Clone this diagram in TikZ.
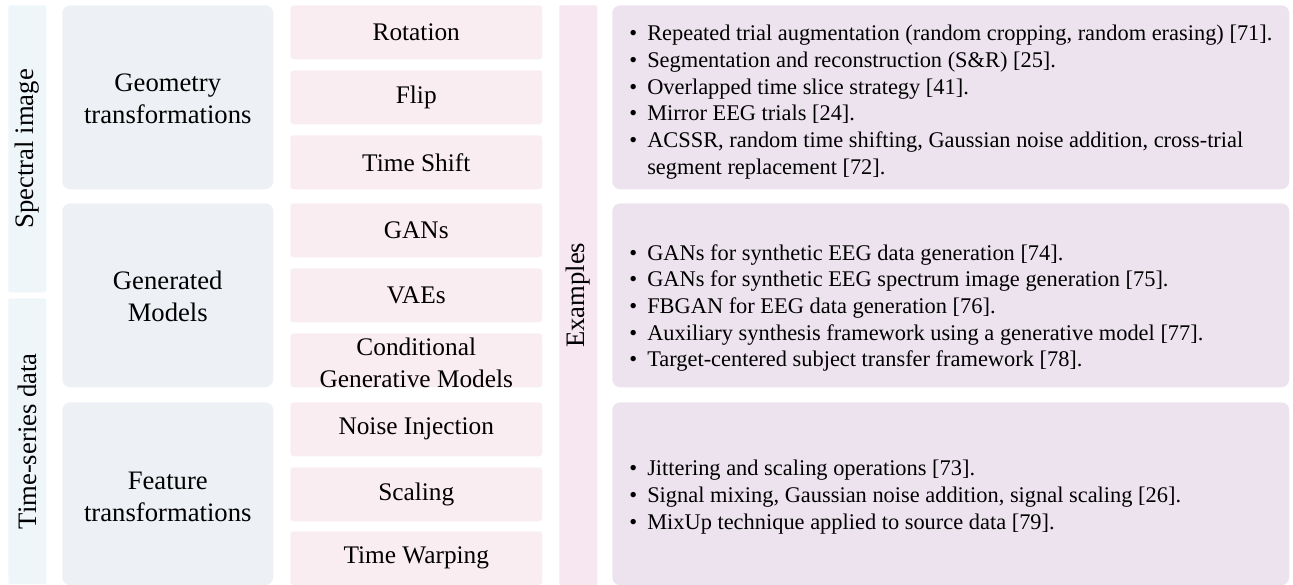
\documentclass[tikz,border=0pt]{standalone}
\usepackage{fontspec}
\setmainfont{Liberation Serif}
\definecolor{sideblue}{HTML}{EEF6FA}
\definecolor{catgray}{HTML}{EDF0F5}
\definecolor{methpink}{HTML}{FAEDF2}
\definecolor{exstrip}{HTML}{F6E7F1}
\definecolor{exlav}{HTML}{EDE3EF}
\newcommand{\bul}{\makebox[13.5pt][l]{\textbullet}}
\begin{document}
\begin{tikzpicture}[x=0.75pt,y=-0.75pt,
  side/.style={fill=sideblue, rounded corners=1.5pt, inner sep=0pt, anchor=north west, minimum width=28.5pt},
  vlabel/.style={rotate=90, font=\fontsize{20}{24}\selectfont, inner sep=0pt},
  cat/.style={fill=catgray, rounded corners=6pt, anchor=north west, minimum width=158.25pt, minimum height=138pt, inner sep=0pt},
  cattext/.style={align=center, font=\fontsize{20}{24}\selectfont, inner sep=0pt},
  meth/.style={fill=methpink, rounded corners=2.5pt, anchor=north west, minimum width=189pt, minimum height=40.5pt, font=\fontsize{19}{24}\selectfont, align=center, inner sep=0pt},
  exbox/.style={fill=exlav, rounded corners=6pt, anchor=north west, minimum width=507.75pt, minimum height=138pt, inner sep=0pt},
  extext/.style={anchor=west, align=left, font=\fontsize{16.8}{20}\selectfont, inner sep=0pt}
]
\useasboundingbox (0,0) rectangle (1293,585);
% side strips
\node[side, minimum height=215.25pt] (s1) at (8,5) {};
\node[vlabel] (s1t) at (s1.center) {Spectral image};
\node[side, minimum height=214.5pt] (s2) at (8,298) {};
\node[vlabel] (s2t) at (s2.center) {Time-series data};
% categories
\node[cat] (c1) at (62,5) {};
\node[cattext] (c1t) at ([yshift=-1.5pt]c1.center) {Geometry\\transformations};
\node[cat] (c2) at (62,203) {};
\node[cattext] (c2t) at ([yshift=-1.2pt]c2.center) {Generated\\Models};
\node[cat, minimum height=137.25pt] (c3) at (62,402) {};
\node[cattext] (c3t) at ([yshift=-2pt]c3.center) {Feature\\transformations};
% methods
\node[meth] (m1) at (290,5) {Rotation};
\node[meth] (m2) at (290,70) {Flip};
\node[meth] (m3) at (290,135) {Time Shift};
\node[meth] (m4) at (290,203) {GANs};
\node[meth] (m5) at (290,268) {VAEs};
\node[meth] (m6) at (290,333) {};
\node[align=center, font=\fontsize{19}{24}\selectfont, inner sep=0pt] (m6t) at ([yshift=-2.2pt]m6.center) {Conditional\\Generative Models};
\node[meth] (m7) at (290,402) {Noise Injection};
\node[meth] (m8) at (290,467) {Scaling};
\node[meth] (m9) at (290,531) {Time Warping};
% examples strip
\node[fill=exstrip, rounded corners=1.5pt, inner sep=0pt, anchor=north west, minimum width=28.5pt, minimum height=435pt] (ex) at (559,5) {};
\node[vlabel] (ext) at (ex.center) {Examples};
% example boxes
\node[exbox] (e1) at (612,5) {};
\node[exbox] (e2) at (612,203) {};
\node[exbox, minimum height=137.25pt] (e3) at (612,402) {};
\node[extext] (e1t) at (629,102) {\bul Repeated trial augmentation (random cropping, random erasing) [71].\\
\bul Segmentation and reconstruction (S\&R) [25].\\
\bul Overlapped time slice strategy [41].\\
\bul Mirror EEG trials [24].\\
\bul ACSSR, random time shifting, Gaussian noise addition, cross-trial\\
\hspace*{13.5pt}segment replacement [72].};
\node[extext] (e2t) at (629,308) {\bul GANs for synthetic EEG data generation [74].\\
\bul GANs for synthetic EEG spectrum image generation [75].\\
\bul FBGAN for EEG data generation [76].\\
\bul Auxiliary synthesis framework using a generative model [77].\\
\bul Target-centered subject transfer framework [78].};
\node[extext] (e3t) at (629,497) {\bul Jittering and scaling operations [73].\\
\bul Signal mixing, Gaussian noise addition, signal scaling [26].\\
\bul MixUp technique applied to source data [79].};
\end{tikzpicture}
\end{document}
